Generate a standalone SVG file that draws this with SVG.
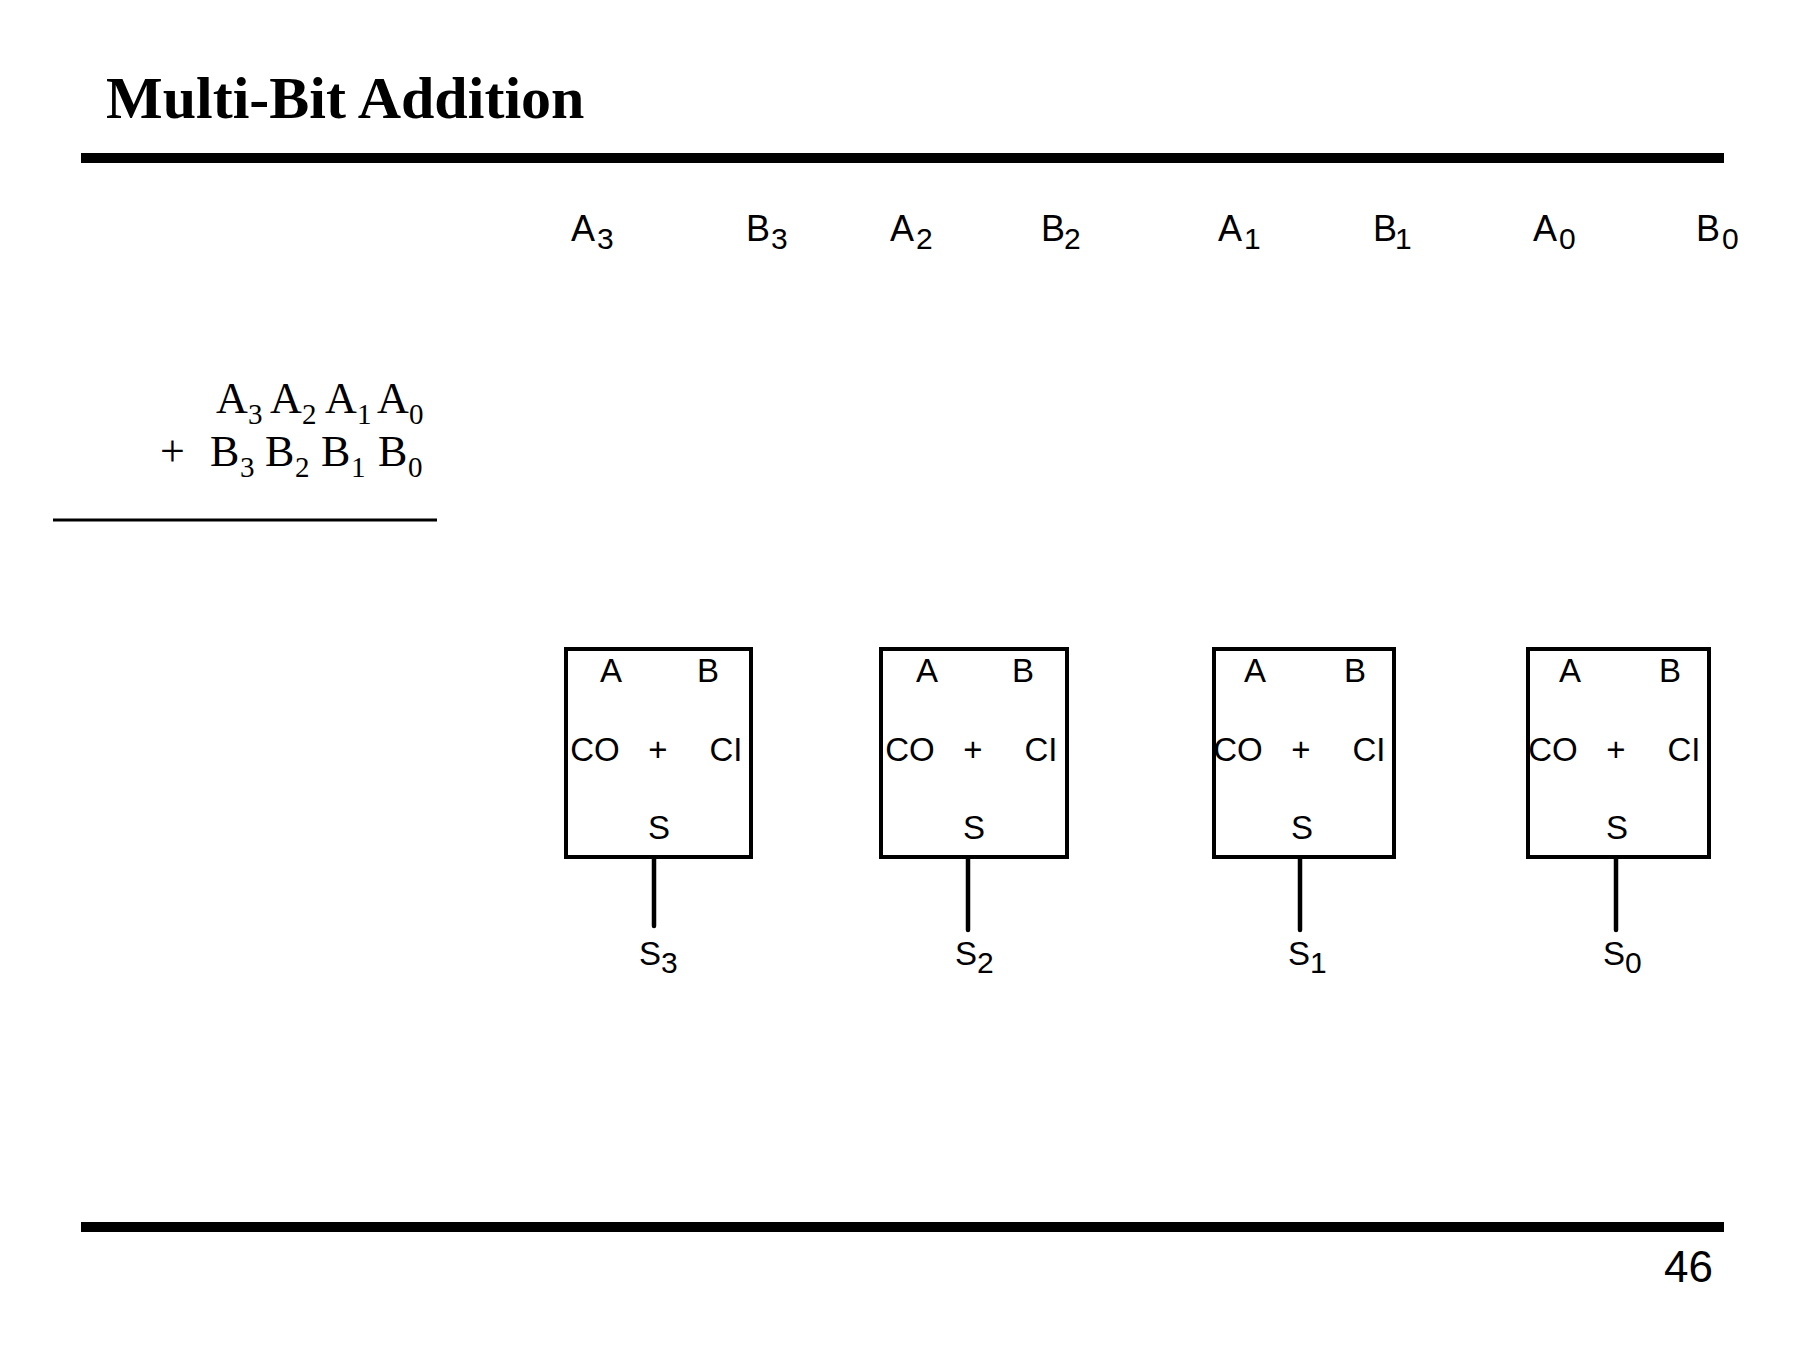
<svg xmlns="http://www.w3.org/2000/svg" width="1800" height="1350" viewBox="0 0 1800 1350">
  <style>
    .title { font-family: "Liberation Serif", "Times New Roman", serif; font-weight: bold; font-size: 60px; fill: #000; }
    .serif { font-family: "Liberation Serif", "Times New Roman", serif; font-size: 44px; fill: #000; }
    .serif .sub { font-size: 29px; }
    .sans { font-family: "Liberation Sans", Arial, sans-serif; fill: #000; }
    .pin { font-size: 36px; }
    .pin .sub, .out .sub { font-size: 30px; }
    .port { font-family: "Liberation Sans", Arial, sans-serif; font-size: 33px; fill: #000; text-anchor: middle; }
    .out { font-size: 33px; }
    .box { fill: #fff; stroke: #000; stroke-width: 4; }
    .wire { stroke: #000; stroke-width: 4.5; stroke-linecap: round; fill: none; }
    .bar { fill: #000; }
  </style>

  <rect width="1800" height="1350" fill="#fff"/>

  <!-- header -->
  <text class="title" x="106" y="118">Multi-Bit Addition</text>
  <rect class="bar" x="81" y="153" width="1643" height="10"/>

  <!-- column sum written out -->
  <g id="sum">
    <text class="serif" y="413">
      <tspan x="216">A</tspan><tspan class="sub" x="248" dy="11">3</tspan>
      <tspan x="270" dy="-11">A</tspan><tspan class="sub" x="302" dy="11">2</tspan>
      <tspan x="325" dy="-11">A</tspan><tspan class="sub" x="357" dy="11">1</tspan>
      <tspan x="377" dy="-11">A</tspan><tspan class="sub" x="409" dy="11">0</tspan>
    </text>
    <text class="serif" y="466">
      <tspan x="160">+</tspan>
      <tspan x="210">B</tspan><tspan class="sub" x="240" dy="11">3</tspan>
      <tspan x="265" dy="-11">B</tspan><tspan class="sub" x="295" dy="11">2</tspan>
      <tspan x="321" dy="-11">B</tspan><tspan class="sub" x="351" dy="11">1</tspan>
      <tspan x="378" dy="-11">B</tspan><tspan class="sub" x="408" dy="11">0</tspan>
    </text>
    <line x1="53" y1="520" x2="437" y2="520" stroke="#000" stroke-width="3"/>
  </g>

  <!-- operand inputs -->
  <g id="inputs" class="sans pin">
    <text y="241"><tspan x="571">A</tspan><tspan class="sub" x="597" dy="8">3</tspan></text>
    <text y="241"><tspan x="746">B</tspan><tspan class="sub" x="771" dy="8">3</tspan></text>
    <text y="241"><tspan x="890">A</tspan><tspan class="sub" x="916" dy="8">2</tspan></text>
    <text y="241"><tspan x="1041">B</tspan><tspan class="sub" x="1064" dy="8">2</tspan></text>
    <text y="241"><tspan x="1218">A</tspan><tspan class="sub" x="1244" dy="8">1</tspan></text>
    <text y="241"><tspan x="1373">B</tspan><tspan class="sub" x="1395" dy="8">1</tspan></text>
    <text y="241"><tspan x="1533">A</tspan><tspan class="sub" x="1559" dy="8">0</tspan></text>
    <text y="241"><tspan x="1696">B</tspan><tspan class="sub" x="1722" dy="8">0</tspan></text>
  </g>

  <!-- full adder, bit 3 -->
  <g id="adder3">
    <rect class="box" x="566" y="649" width="185" height="208"/>
    <text class="port" x="611" y="682">A</text>
    <text class="port" x="708" y="682">B</text>
    <text class="port" x="595" y="761">CO</text>
    <text class="port" x="658" y="761">+</text>
    <text class="port" x="726" y="761">CI</text>
    <text class="port" x="659" y="839">S</text>
  </g>

  <!-- full adder, bit 2 -->
  <g id="adder2">
    <rect class="box" x="881" y="649" width="186" height="208"/>
    <text class="port" x="927" y="682">A</text>
    <text class="port" x="1023" y="682">B</text>
    <text class="port" x="910" y="761">CO</text>
    <text class="port" x="973" y="761">+</text>
    <text class="port" x="1041" y="761">CI</text>
    <text class="port" x="974" y="839">S</text>
  </g>

  <!-- full adder, bit 1 -->
  <g id="adder1">
    <rect class="box" x="1214" y="649" width="180" height="208"/>
    <text class="port" x="1255" y="682">A</text>
    <text class="port" x="1355" y="682">B</text>
    <text class="port" x="1238" y="761">CO</text>
    <text class="port" x="1301" y="761">+</text>
    <text class="port" x="1369" y="761">CI</text>
    <text class="port" x="1302" y="839">S</text>
  </g>

  <!-- full adder, bit 0 -->
  <g id="adder0">
    <rect class="box" x="1528" y="649" width="181" height="208"/>
    <text class="port" x="1570" y="682">A</text>
    <text class="port" x="1670" y="682">B</text>
    <text class="port" x="1553" y="761">CO</text>
    <text class="port" x="1616" y="761">+</text>
    <text class="port" x="1684" y="761">CI</text>
    <text class="port" x="1617" y="839">S</text>
  </g>

  <!-- sum outputs -->
  <g id="connectors">
    <line class="wire" x1="654" y1="859" x2="654" y2="926"/>
    <line class="wire" x1="968" y1="859" x2="968" y2="930"/>
    <line class="wire" x1="1300" y1="859" x2="1300" y2="930"/>
    <line class="wire" x1="1616" y1="859" x2="1616" y2="930"/>
  </g>

  <g id="outputs" class="sans out">
    <text y="965"><tspan x="639">S</tspan><tspan class="sub" x="661" dy="8">3</tspan></text>
    <text y="965"><tspan x="955">S</tspan><tspan class="sub" x="977" dy="8">2</tspan></text>
    <text y="965"><tspan x="1288">S</tspan><tspan class="sub" x="1310" dy="8">1</tspan></text>
    <text y="965"><tspan x="1603">S</tspan><tspan class="sub" x="1625" dy="8">0</tspan></text>
  </g>

  <!-- footer -->
  <rect class="bar" x="81" y="1222" width="1643" height="10"/>
  <text class="sans" x="1713" y="1282" font-size="44" text-anchor="end">46</text>
</svg>
